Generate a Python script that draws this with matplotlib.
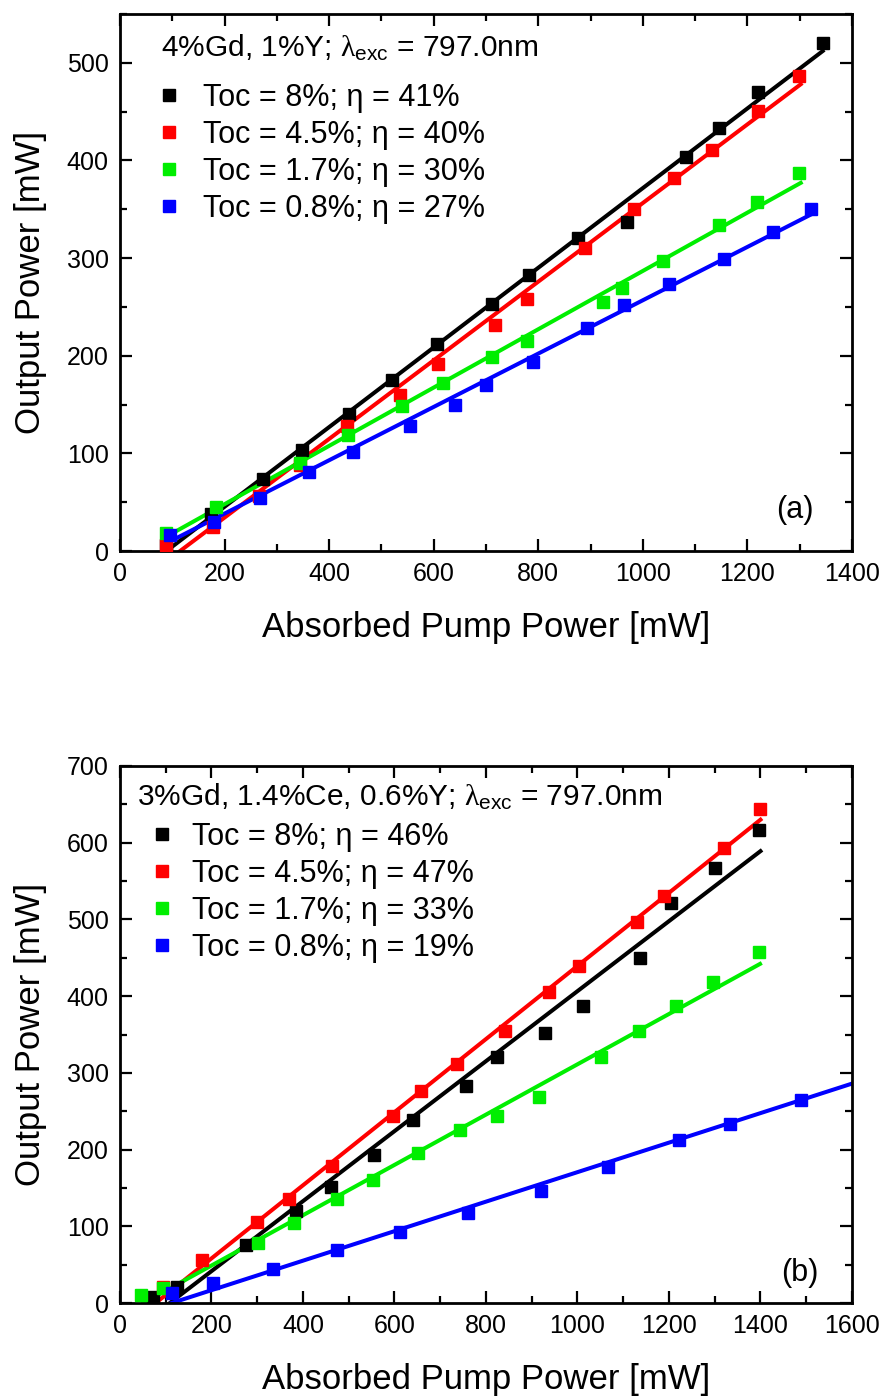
import matplotlib
matplotlib.use("Agg")
import matplotlib.pyplot as plt
from matplotlib.ticker import MultipleLocator

plt.rcParams['font.family'] = ['Liberation Sans', 'DejaVu Sans']
plt.rcParams['mathtext.fontset'] = 'custom'
plt.rcParams['mathtext.rm'] = 'Liberation Sans'
plt.rcParams['mathtext.it'] = 'Liberation Serif'

colors = ["black", "#ff0000", "#00ee00", "#0000ff"]

# ---- panel (a): 4%Gd, 1%Y ----
a_labels = ["Toc = 8%; η = 41%", "Toc = 4.5%; η = 40%",
            "Toc = 1.7%; η = 30%", "Toc = 0.8%; η = 27%"]
a_x_8 = [89, 175, 273, 349, 438, 520, 607, 711, 783, 876, 969, 1082, 1146, 1221, 1345]
a_y_8 = [6, 38, 74, 103, 140, 175, 212, 253, 283, 321, 337, 404, 433, 470, 520]
a_x_45 = [89, 178, 265, 344, 434, 536, 609, 717, 778, 889, 983, 1060, 1132, 1221, 1299]
a_y_45 = [6, 25, 56, 88, 128, 160, 192, 231, 258, 310, 350, 382, 411, 451, 486]
a_x_17 = [89, 184, 344, 437, 539, 617, 711, 778, 923, 960, 1039, 1145, 1219, 1299]
a_y_17 = [18, 45, 90, 119, 148, 172, 199, 215, 255, 269, 297, 334, 357, 387]
a_x_08 = [96, 179, 268, 362, 446, 555, 641, 700, 790, 893, 964, 1050, 1155, 1248, 1321]
a_y_08 = [16, 30, 54, 81, 101, 128, 150, 170, 194, 228, 252, 273, 299, 327, 350]
# fit lines (start / end points)
a_fit_x = [[89, 1344], [115, 1302], [83, 1302], [89, 1323]]
a_fit_y = [[0, 512], [0, 478], [13, 377], [8, 345]]

# ---- panel (b): 3%Gd, 1.4%Ce, 0.6%Y ----
b_labels = ["Toc = 8%; η = 46%", "Toc = 4.5%; η = 47%",
            "Toc = 1.7%; η = 33%", "Toc = 0.8%; η = 19%"]
b_x_8 = [73, 124, 275, 385, 461, 555, 641, 756, 825, 928, 1011, 1137, 1204, 1301, 1397]
b_y_8 = [8, 21, 76, 120, 151, 193, 239, 283, 321, 352, 387, 450, 521, 567, 617]
b_x_45 = [95, 179, 299, 370, 463, 597, 659, 736, 842, 938, 1004, 1131, 1190, 1320, 1400]
b_y_45 = [21, 56, 106, 136, 178, 244, 276, 312, 355, 406, 439, 497, 531, 593, 644]
b_x_17 = [45, 95, 302, 381, 474, 554, 651, 743, 825, 917, 1051, 1135, 1215, 1296, 1396]
b_y_17 = [10, 20, 78, 104, 135, 160, 195, 225, 244, 269, 321, 355, 387, 418, 458]
b_x_08 = [113, 203, 335, 474, 612, 761, 920, 1066, 1222, 1333, 1488]
b_y_08 = [13, 26, 44, 69, 93, 117, 146, 177, 212, 233, 265]
b_fit_x = [[109, 1400], [78, 1400], [51, 1399], [113, 1600]]
b_fit_y = [[0, 589], [0, 630], [0, 442], [0, 286]]

panels = [
    dict(xs=[a_x_8, a_x_45, a_x_17, a_x_08], ys=[a_y_8, a_y_45, a_y_17, a_y_08],
         fx=a_fit_x, fy=a_fit_y, labels=a_labels,
         header=r"4%Gd, 1%Y; $\lambda_{\rm exc}$ = 797.0nm", head_pos=(0.056, 0.937),
         leg_pos=(0.0546, 0.872), textpad=0.82,
         tag="(a)", tag_pos=(0.922, 0.076), xmax=1400, ymax=550,
         rect=[0.1354, 0.6053, 0.8262, 0.3847]),
    dict(xs=[b_x_8, b_x_45, b_x_17, b_x_08], ys=[b_y_8, b_y_45, b_y_17, b_y_08],
         fx=b_fit_x, fy=b_fit_y, labels=b_labels,
         header=r"3%Gd, 1.4%Ce, 0.6%Y; $\lambda_{\rm exc}$ = 797.0nm", head_pos=(0.023, 0.942),
         leg_pos=(0.045, 0.896), textpad=0.68,
         tag="(b)", tag_pos=(0.929, 0.056), xmax=1600, ymax=700,
         rect=[0.1354, 0.0666, 0.8262, 0.3847]),
]

fig = plt.figure(figsize=(8.86, 13.96), dpi=100)

for p in panels:
    ax = fig.add_axes(p["rect"])
    handles = []
    for i in range(4):
        ax.plot(p["fx"][i], p["fy"][i], color=colors[i], lw=2.9, zorder=2)
        h, = ax.plot(p["xs"][i], p["ys"][i], ls="none", marker="s", ms=9,
                     color=colors[i], label=p["labels"][i], zorder=3)
        handles.append(h)
    ax.set_xlim(0, p["xmax"])
    ax.set_ylim(0, p["ymax"])
    ax.xaxis.set_major_locator(MultipleLocator(200))
    ax.xaxis.set_minor_locator(MultipleLocator(100))
    ax.yaxis.set_major_locator(MultipleLocator(100))
    ax.yaxis.set_minor_locator(MultipleLocator(50))
    ax.tick_params(which="both", direction="in", top=True, right=True, width=1.6)
    ax.tick_params(which="major", length=8.5, labelsize=18, pad=8)
    ax.tick_params(which="minor", length=5)
    for s in ax.spines.values():
        s.set_linewidth(2.0)
    ax.set_xlabel("Absorbed Pump Power [mW]", fontsize=25, labelpad=18)
    ax.set_ylabel("Output Power [mW]", fontsize=25, labelpad=14)
    ax.text(p["head_pos"][0], p["head_pos"][1], p["header"], transform=ax.transAxes,
            fontsize=21.5, ha="left", va="center")
    ax.legend(handles=handles, loc="upper left", bbox_to_anchor=p["leg_pos"],
              frameon=False, fontsize=22, handlelength=0.6,
              handletextpad=p["textpad"], labelspacing=0.23, borderaxespad=0,
              borderpad=0)
    ax.text(p["tag_pos"][0], p["tag_pos"][1], p["tag"], transform=ax.transAxes,
            fontsize=22, ha="center", va="center")

fig.savefig("out.png", dpi=100)
